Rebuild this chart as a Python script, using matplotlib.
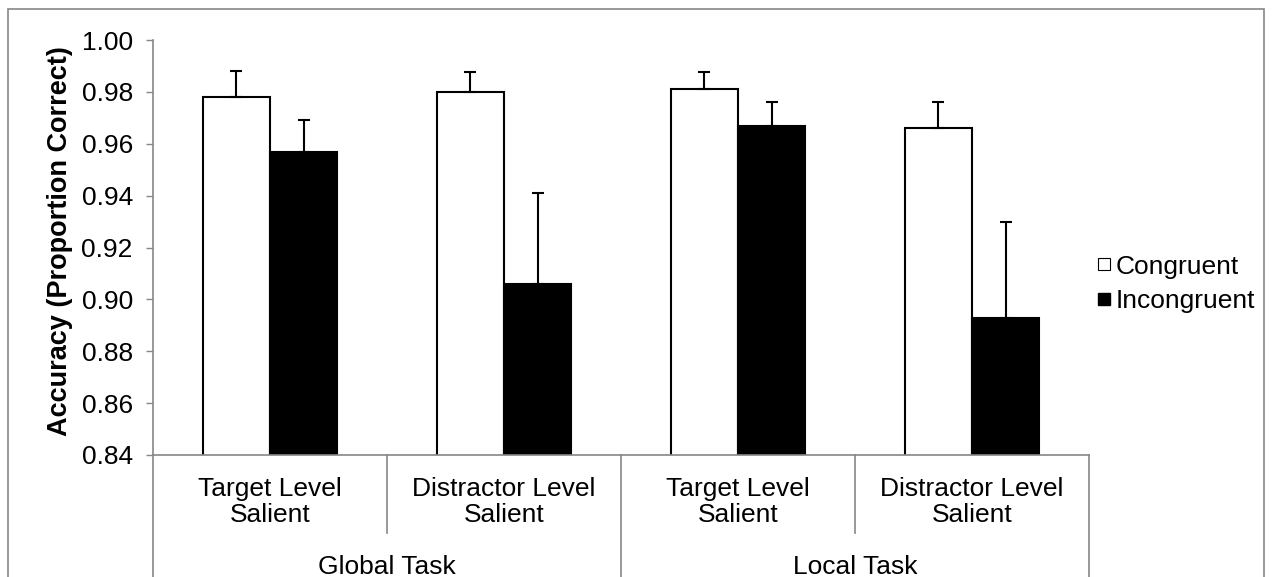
import matplotlib
matplotlib.use("Agg")
from matplotlib import pyplot as plt
from matplotlib.lines import Line2D
from matplotlib.patches import Rectangle
import matplotlib.transforms as mtransforms
import numpy as np

plt.rcParams['font.family'] = ['Liberation Sans', 'DejaVu Sans']

# sub-categories and their parent groups
conditions = ["Target Level\nSalient", "Distractor Level\nSalient",
              "Target Level\nSalient", "Distractor Level\nSalient"]
tasks = ["Global Task", "Local Task"]

# proportion correct per condition
congruent = [0.978, 0.980, 0.981, 0.966]
incongruent = [0.957, 0.906, 0.967, 0.893]
# upper error bar lengths
congruent_err = [0.010, 0.0077, 0.0068, 0.010]
incongruent_err = [0.012, 0.035, 0.009, 0.0367]

yticks = [0.84, 0.86, 0.88, 0.90, 0.92, 0.94, 0.96, 0.98, 1.00]

FS = 19

fig = plt.figure(figsize=(12.72, 5.77), dpi=100)
W, H = 1272, 577
ax = fig.add_axes([153 / W, 1 - 455 / H, (1089 - 153) / W, (455 - 40) / H])

x = np.arange(len(conditions))
w = 0.287
err_kw = dict(ecolor="black", elinewidth=1.5, capsize=4.3, capthick=1.5)
ax.bar(x - w / 2, congruent, w, color="white", edgecolor="black", linewidth=1.5,
       yerr=[np.zeros(4), congruent_err], error_kw=err_kw, label="Congruent", zorder=2)
ax.bar(x + w / 2, incongruent, w, color="black", edgecolor="black", linewidth=1.5,
       yerr=[np.zeros(4), incongruent_err], error_kw=err_kw, label="Incongruent", zorder=2)

ax.set_ylim(0.84, 1.00)
ax.set_xlim(-0.5, len(conditions) - 0.5)
ax.set_yticks(yticks)
ax.set_yticklabels(["%.2f" % t for t in yticks], fontsize=FS)
ax.set_xticks([])
ax.tick_params(axis="y", direction="out", length=5, width=1, color="#868686", pad=9.5)

for s in ["top", "right"]:
    ax.spines[s].set_visible(False)
for s in ["left", "bottom"]:
    ax.spines[s].set_color("#868686")
    ax.spines[s].set_linewidth(1.2)

ax.set_ylabel("Accuracy (Proportion Correct)", fontsize=19.5, fontweight="bold")
ax.yaxis.set_label_coords(-0.086, 0.516)

# two-level category axis
trans = mtransforms.blended_transform_factory(ax.transData, ax.transAxes)
for i, lab in enumerate(conditions):
    ax.text(x[i], -0.113, lab, transform=trans, ha="center", va="center",
            fontsize=FS, linespacing=1.1)
for j, t in enumerate(tasks):
    ax.text(2 * j + 0.5, -0.27, t, transform=trans, ha="center", va="center", fontsize=FS)

for b in [0.5, 2.5]:
    ax.plot([b, b], [0, -0.188], transform=trans, color="#868686", lw=1.2, clip_on=False)
for b in [-0.5, 1.5, 3.5]:
    ax.plot([b, b], [0, -0.32], transform=trans, color="#868686", lw=1.2, clip_on=False)

handles = [Line2D([], [], marker="s", ls="none", markersize=9, markerfacecolor="white",
                  markeredgecolor="black", markeredgewidth=0.8),
           Line2D([], [], marker="s", ls="none", markersize=9, markerfacecolor="black",
                  markeredgecolor="black")]
fig.legend(handles, ["Congruent", "Incongruent"], loc="center left",
           bbox_to_anchor=(1072 / W, 1 - 284 / H), frameon=False, fontsize=FS,
           handlelength=0.6, handletextpad=0.15, labelspacing=0.4)

# chart border
fig.patches.append(Rectangle((8 / W, -0.01), (1264 - 8) / W, 1.01 - 9 / H,
                             transform=fig.transFigure, fill=False,
                             edgecolor="#868686", lw=1.2))

fig.savefig("out.png", dpi=100)
